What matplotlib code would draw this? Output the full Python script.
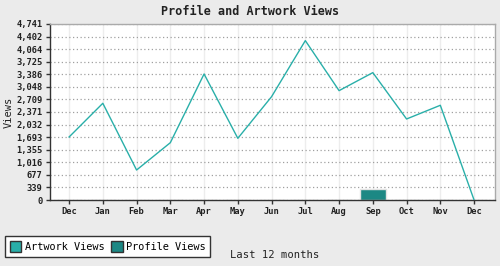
import matplotlib
matplotlib.use("Agg")
import matplotlib.pyplot as plt
from matplotlib.patches import Patch
from matplotlib.ticker import FixedLocator, FuncFormatter

months = ["Dec", "Jan", "Feb", "Mar", "Apr", "May", "Jun", "Jul", "Aug", "Sep", "Oct", "Nov", "Dec"]
artwork_views = [1697, 2605, 808, 1544, 3394, 1662, 2783, 4292, 2945, 3430, 2182, 2551, 0]
profile_views = [0, 0, 0, 0, 0, 0, 0, 0, 0, 296, 0, 0, 0]
yticks = [0, 339, 677, 1016, 1355, 1693, 2032, 2371, 2709, 3048, 3386, 3725, 4064, 4402, 4741]

line_color = "#29AFA9"
bar_color = "#1C8884"
mono = "DejaVu Sans Mono"

fig = plt.figure(figsize=(5, 2.66), dpi=100, facecolor="#EBEBEB")
ax = fig.add_axes([0.099, 0.248, 0.891, 0.662], facecolor="white")

x = list(range(len(months)))
ax.bar(x, profile_views, width=0.77, color=bar_color, edgecolor="#e4e4e4", linewidth=1, zorder=2)
ax.plot(x, artwork_views, color=line_color, linewidth=1, zorder=3)

ax.set_xlim(-0.58, 12.62)
ax.set_ylim(0, 4741)
ax.yaxis.set_major_locator(FixedLocator(yticks))
ax.yaxis.set_major_formatter(FuncFormatter(lambda v, p: f"{int(round(v)):,}"))
ax.set_xticks(x)
ax.set_xticklabels(months)

ax.grid(axis="y", linestyle=(0, (1, 2)), color="#a0a0a0", linewidth=0.9, zorder=1)
ax.grid(axis="x", linestyle="-", color="#ededed", linewidth=1, zorder=0.5)
ax.set_axisbelow(True)

for lbl in ax.get_xticklabels() + ax.get_yticklabels():
    lbl.set_fontfamily(mono)
    lbl.set_fontsize(6.3)
    lbl.set_fontweight("bold")
    lbl.set_color("#222222")
ax.tick_params(axis="both", direction="out", length=3, width=1, color="#333333", pad=2)

ax.spines["left"].set_color("#333333")
ax.spines["bottom"].set_color("#333333")
ax.spines["top"].set_color("#aaaaaa")
ax.spines["right"].set_color("#aaaaaa")
for s in ax.spines.values():
    s.set_linewidth(1)

ax.set_ylabel("Views", fontfamily=mono, fontsize=7.5, color="#222222", labelpad=2)
fig.text(0.5, 0.955, "Profile and Artwork Views", ha="center", va="center",
         fontfamily=mono, fontsize=8.5, fontweight="bold", color="#222222")

handles = [Patch(facecolor=line_color, edgecolor="#333333", linewidth=1, label="Artwork Views"),
           Patch(facecolor=bar_color, edgecolor="#333333", linewidth=1, label="Profile Views")]
leg = fig.legend(handles=handles, loc="lower left", bbox_to_anchor=(0.01, 0.035), ncol=2,
                 prop={"family": mono, "size": 7.4}, frameon=True, fancybox=False,
                 edgecolor="#333333", framealpha=1, handlelength=1.1, handleheight=1.25,
                 handletextpad=0.3, columnspacing=0.7, borderpad=0.5, borderaxespad=0)
leg.get_frame().set_linewidth(1)
fig.text(0.46, 0.04, "Last 12 months", ha="left", va="center", fontfamily=mono,
         fontsize=7.6, color="#222222")

fig.savefig("out.png", dpi=100, facecolor=fig.get_facecolor())
